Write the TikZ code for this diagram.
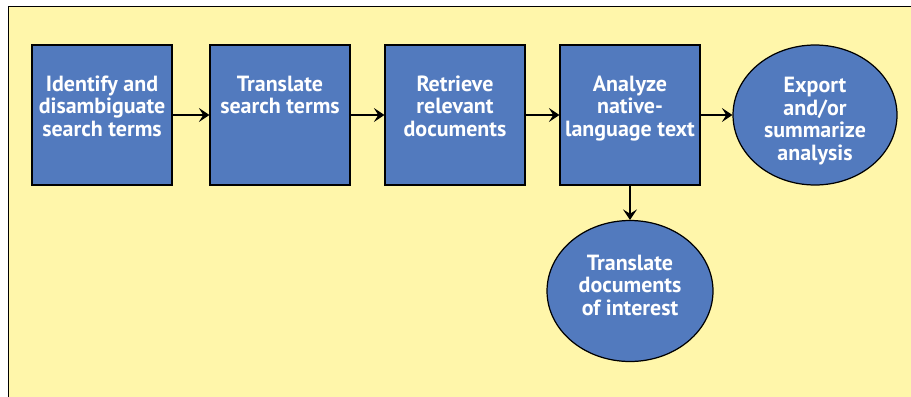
\documentclass[tikz,border=0pt]{standalone}
\usepackage{fontspec}
\setmainfont{PT Sans}
\usepackage{tikz}
\usetikzlibrary{shapes.geometric,arrows.meta,positioning}
\definecolor{bgyellow}{RGB}{255,246,170}
\definecolor{boxblue}{RGB}{82,122,190}

\begin{document}
\begin{tikzpicture}[x=0.02cm,y=-0.02cm,
	stepbox/.style={shape=rectangle,draw=black,fill=boxblue,line width=0.7pt,minimum width=2.8cm,minimum height=2.8cm,inner sep=0pt},
	endoval/.style={shape=ellipse,draw=black,fill=boxblue,line width=0.7pt,inner sep=0pt},
	boxtext/.style={text=white,font=\bfseries\fontsize{12.5}{12.8}\selectfont,align=center,inner sep=0pt},
	flow/.style={-{Stealth[length=6pt,width=8pt,inset=2.5pt]},line width=0.7pt}]
	\useasboundingbox (0,0) rectangle (911,396);
	\fill[bgyellow] (8,6) rectangle (920,405);
	\draw[line width=0.5pt] (8,405) -- (8,6) -- (920,6);
	% shapes
	\node[stepbox] (ident) at (102, 115)   {};
	\node[stepbox] (trans) at (280, 115)   {};
	\node[stepbox] (retr)  at (455, 115)   {};
	\node[stepbox] (anal)  at (630, 115)   {};
	\node[endoval,minimum width=3.28cm,minimum height=2.8cm] (export) at (815, 115) {};
	\node[endoval,minimum width=3.32cm,minimum height=2.82cm] (trdoc) at (630, 291) {};
	% texts
	\node[boxtext,anchor=north,below=0.62cm] at (ident.north) {Identify and\\disambiguate\\search terms};
	\node[boxtext,anchor=north,below=0.62cm] at (trans.north) {Translate\\search terms};
	\node[boxtext,anchor=north,below=0.62cm] at (retr.north)  {Retrieve\\relevant\\documents};
	\node[boxtext,anchor=north,below=0.62cm] at (anal.north)  {Analyze\\native-\\language text};
	\node[boxtext,yshift=-0.12cm] at (export.center) {Export\\and/or\\summarize\\analysis};
	\node[boxtext,yshift=0.12cm]  at (trdoc.center)  {Translate\\documents\\of interest};
	% arrows
	\path[flow] (ident) edge (trans);
	\path[flow] (trans) edge (retr);
	\path[flow] (retr)  edge (anal);
	\path[flow] (anal)  edge (export);
	\path[flow] (anal)  edge (trdoc);
\end{tikzpicture}
\end{document}
